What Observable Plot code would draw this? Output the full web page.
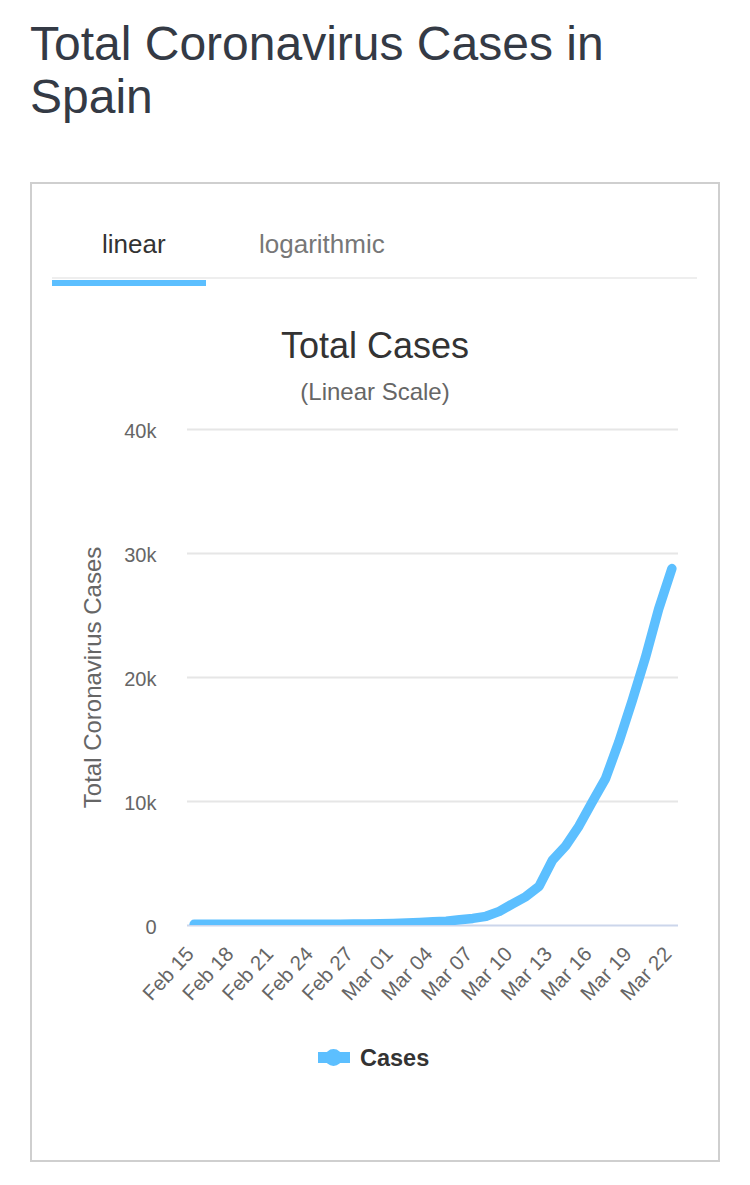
<!DOCTYPE html>
<html><head><meta charset="utf-8">
<script src="https://cdn.jsdelivr.net/npm/d3@7"></script>
<script src="https://cdn.jsdelivr.net/npm/@observablehq/plot@0.6"></script>
<style>
html,body{margin:0;padding:0;background:#fff;width:750px;height:1185px;overflow:hidden;font-family:"Liberation Sans",Arial,sans-serif}
.a{position:absolute;white-space:nowrap}
#chart{position:absolute;left:0;top:420px}
#chart svg{overflow:visible}
</style></head><body>
<div class="a" style="left:30px;top:17px;font-size:48px;line-height:53px;color:#343a45">Total Coronavirus Cases in<br>Spain</div>
<div class="a" style="left:30px;top:182px;width:686px;height:976px;border:2px solid #cfcfcf"></div>
<div class="a" style="left:102px;top:229px;font-size:26px;line-height:30px;color:#333">linear</div>
<div class="a" style="left:259px;top:229px;font-size:26px;line-height:30px;color:#777">logarithmic</div>
<div class="a" style="left:52px;top:277px;width:645px;height:2px;background:#eee"></div>
<div class="a" style="left:52px;top:280px;width:154px;height:6px;background:#5cbfff"></div>
<div class="a" style="left:0;width:750px;box-sizing:border-box;text-align:center;top:325px;font-size:36px;line-height:42px;color:#333">Total Cases</div>
<div class="a" style="left:0;width:750px;box-sizing:border-box;text-align:center;top:378px;font-size:24px;line-height:28px;color:#666">(Linear Scale)</div>
<div class="a" style="left:318px;top:1052px;width:32px;height:11px;background:#5cbfff"></div>
<div class="a" style="left:325px;top:1049px;width:17px;height:17px;border-radius:50%;background:#5cbfff"></div>
<div class="a" style="left:360px;top:1044px;font-size:23.5px;line-height:28px;font-weight:bold;color:#333">Cases</div>
<div id="chart"></div>
<script>
const days = ["Feb 15","Feb 16","Feb 17","Feb 18","Feb 19","Feb 20","Feb 21","Feb 22","Feb 23","Feb 24","Feb 25","Feb 26","Feb 27","Feb 28","Feb 29","Mar 01","Mar 02","Mar 03","Mar 04","Mar 05","Mar 06","Mar 07","Mar 08","Mar 09","Mar 10","Mar 11","Mar 12","Mar 13","Mar 14","Mar 15","Mar 16","Mar 17","Mar 18","Mar 19","Mar 20","Mar 21","Mar 22"];
const cases = [100,100,100,100,100,100,100,100,100,100,105,110,115,130,145,170,200,240,300,340,470,570,740,1140,1750,2330,3170,5260,6420,8020,9960,11840,14780,18080,21580,25500,28780];
const xTicks = ["Feb 15","Feb 18","Feb 21","Feb 24","Feb 27","Mar 01","Mar 04","Mar 07","Mar 10","Mar 13","Mar 16","Mar 19","Mar 22"];
const yTicks = [0,10000,20000,30000,40000];
const yLabels = ["0","10k","20k","30k","40k"];
const rows = days.map((d,i)=>({day:d,value:cases[i]}));
const plot = Plot.plot({
  width:750,height:610,
  marginLeft:187,marginRight:72,marginTop:9,marginBottom:105,
  style:{fontFamily:'"Liberation Sans",Arial,sans-serif',background:"transparent",overflow:"visible"},
  x:{type:"point",domain:days,padding:0.5,round:false},
  y:{domain:[0,40000]},
  marks:[
    Plot.ruleY(yTicks.slice(1),{stroke:"#e6e6e6",strokeWidth:2,strokeOpacity:1}),
    Plot.ruleY([0],{stroke:"#ccd6eb",strokeWidth:2,strokeOpacity:1}),
    Plot.axisY({ticks:yTicks,tickFormat:v=>yLabels[yTicks.indexOf(v)],tickSize:0,tickPadding:31,fontSize:20,color:"#666",dy:2,label:null}),
    Plot.axisX({ticks:xTicks,tickRotate:-47,tickSize:0,tickPadding:16,fontSize:20.5,color:"#666",dx:-4,dy:9,label:null}),
    Plot.text(["Total Coronavirus Cases"],{frameAnchor:"left",dx:-94,textAnchor:"middle",text:d=>d,rotate:-90,fontSize:24,fill:"#666"}),
    Plot.line(rows,{x:"day",y:"value",stroke:"#5cbfff",strokeWidth:9.5,strokeLinecap:"round",strokeLinejoin:"round",clip:true})
  ]
});
document.getElementById("chart").appendChild(plot);
</script>
</body></html>
